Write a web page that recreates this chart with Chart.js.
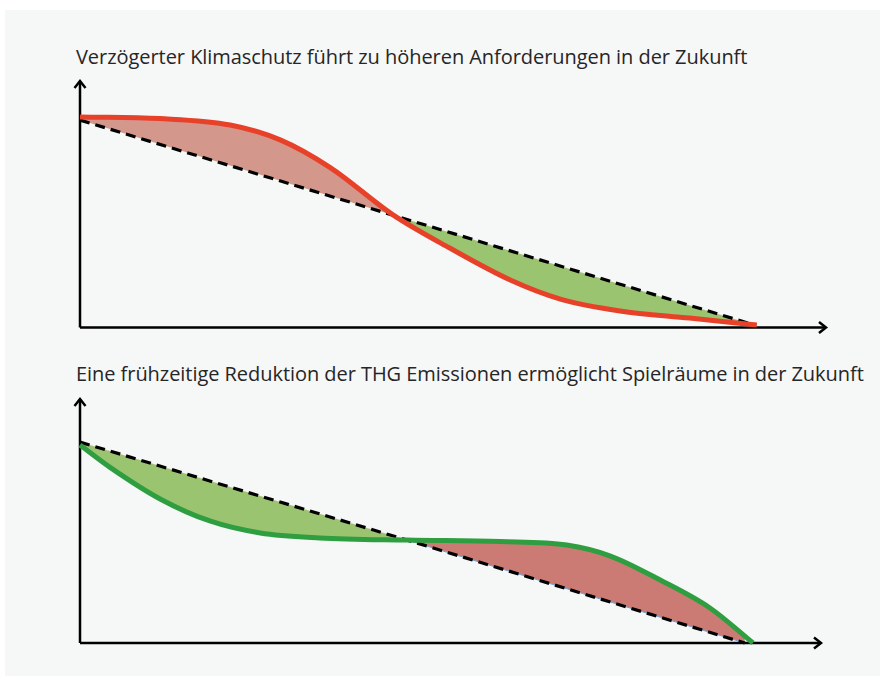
<!DOCTYPE html>
<html>
<head>
<meta charset="utf-8">
<script src="https://cdn.jsdelivr.net/npm/chart.js@4/dist/chart.umd.min.js"></script>
<style>
  html, body { margin: 0; padding: 0; background: #ffffff; }
  body { width: 880px; height: 677px; position: relative; overflow: hidden; }
  #bg { position: absolute; left: 5px; top: 10px; width: 875px; height: 666px; background: #f6f7f7; }
  .title { position: absolute; left: 76px; font-family: "Open Sans", sans-serif; color: #262626; white-space: nowrap; font-size: 20px; line-height: 27px; letter-spacing: -0.05px; }
  canvas { position: absolute; }
</style>
</head>
<body>
<div id="bg"></div>
<div class="title" id="t1" style="top:43px;"></div>
<canvas id="c1" width="770" height="265" style="left:70px; top:72px;"></canvas>
<div class="title" id="t2" style="top:360px;"></div>
<canvas id="c2" width="770" height="265" style="left:70px; top:390px;"></canvas>
<script>
// ---- Data (abstract units: x 0..100 time, y 0..100 emissions) ----
const title1 = "Verzögerter Klimaschutz führt zu höheren Anforderungen in der Zukunft";
const title2 = "Eine frühzeitige Reduktion der THG Emissionen ermöglicht Spielräume in der Zukunft";

// Panel 1: delayed path (red curve) vs. linear path (dashed)
const delayedX = [0, 10.7, 20.1, 26.8, 33.5, 41.9, 49.5, 57.6, 64.3, 72.3, 81.6, 90.6];
const delayedY = [85.1, 84.4, 81.8, 75.8, 64.6, 45.5, 32.1, 19.2, 11.5, 6.7, 3.8, 1.0];
const linear1X = [0, 90.5];
const linear1Y = [83.8, 0.8];

// Panel 2: early reduction path (green curve) vs. linear path (dashed)
const earlyX = [0, 4.0, 10.8, 17.5, 24.3, 32.3, 44.1, 56.6, 65.6, 71.4, 78.2, 84.9, 90.7];
const earlyY = [80.8, 71.8, 58.8, 49.8, 44.9, 42.9, 42.0, 41.4, 40.0, 35.6, 25.7, 14.3, 0];
const linear2X = [0, 44.1, 89.6];
const linear2Y = [82.0, 42.0, 0];

const pts = (xs, ys) => xs.map((x, i) => ({ x, y: ys[i] }));

const axesPlugin = {
  id: 'arrowAxes',
  beforeDatasetsDraw(chart) {
    const { ctx, scales: { x, y } } = chart;
    const x0 = x.getPixelForValue(x.min), xE = x.getPixelForValue(x.max);
    const y0 = y.getPixelForValue(y.min), yT = y.getPixelForValue(y.max);
    ctx.save();
    ctx.strokeStyle = '#000';
    ctx.lineWidth = 2.5;
    ctx.lineCap = 'butt';
    ctx.lineJoin = 'miter';
    ctx.beginPath();
    ctx.moveTo(x0, y0); ctx.lineTo(x0, yT + 1);
    ctx.moveTo(x0, y0); ctx.lineTo(xE - 1, y0);
    ctx.stroke();
    ctx.beginPath();
    ctx.moveTo(x0 - 5.5, yT + 8); ctx.lineTo(x0, yT + 1); ctx.lineTo(x0 + 5.5, yT + 8);
    ctx.moveTo(xE - 8, y0 - 5.5); ctx.lineTo(xE - 1, y0); ctx.lineTo(xE - 8, y0 + 5.5);
    ctx.stroke();
    ctx.restore();
  }
};

function makeChart(id, curve, linear, lineColor, aboveColor, belowColor, pad, blueEdge) {
  const datasets = [
    {
      data: curve,
      borderColor: lineColor,
      borderWidth: 5,
      pointRadius: 0,
      cubicInterpolationMode: 'monotone',
      fill: { target: 1, above: aboveColor, below: belowColor },
      clip: false
    },
    {
      data: linear,
      borderColor: '#000',
      borderWidth: 3.2,
      borderDash: [10, 6],
      pointRadius: 0,
      fill: false,
      clip: false
    }
  ];
  if (blueEdge) {
    datasets.push({
      data: linear,
      borderWidth: 1,
      pointRadius: 0,
      fill: false,
      clip: false,
      segment: { borderColor: c => c.p0DataIndex === 0 ? 'rgba(0,0,0,0)' : '#6a9fd8' }
    });
  }
  return new Chart(document.getElementById(id), {
    type: 'line',
    data: { datasets },
    options: {
      responsive: false,
      animation: false,
      devicePixelRatio: 1,
      layout: { padding: pad },
      scales: {
        x: { type: 'linear', min: 0, max: 100, display: false },
        y: { type: 'linear', min: 0, max: 100, display: false }
      },
      plugins: {
        legend: { display: false },
        tooltip: { enabled: false },
        filler: { drawTime: 'beforeDatasetsDraw' }
      }
    },
    plugins: [axesPlugin]
  });
}

document.getElementById('t1').textContent = title1;
document.getElementById('t2').textContent = title2;

makeChart('c1', pts(delayedX, delayedY), pts(linear1X, linear1Y), '#e8412a', '#d4978c', '#9bc470',
  { left: 10, right: 13, top: 8, bottom: 9.5 }, false);
makeChart('c2', pts(earlyX, earlyY), pts(linear2X, linear2Y), '#2f9e40', '#cc7b74', '#9bc470',
  { left: 10, right: 18, top: 8, bottom: 12 }, true);
</script>
</body>
</html>
